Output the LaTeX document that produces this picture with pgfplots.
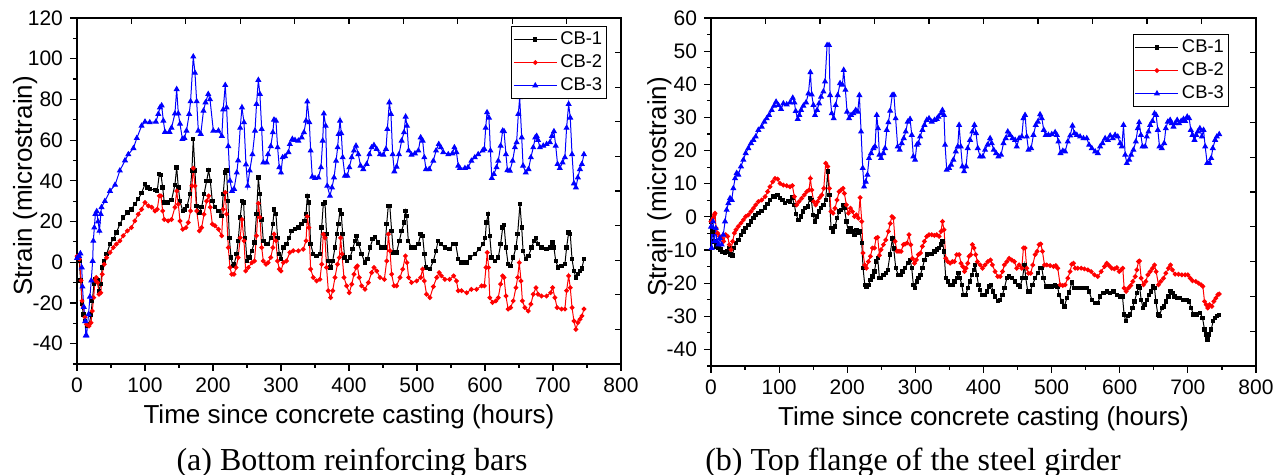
\documentclass[border=0pt]{standalone}
\usepackage{fontspec}
\setmainfont{Liberation Serif}
\newfontfamily\arial{Liberation Sans}
\usepackage{pgfplots}
\pgfplotsset{compat=1.18}

\pgfplotsset{
  strain/.style={
    scale only axis,
    xmin=0, xmax=800, xtick distance=100, minor x tick num=1,
    minor y tick num=1,
    tick pos=left, tick align=outside,
    major tick length=3.5pt, minor tick length=2pt,
    axis line style={line width=0.7pt},
    every tick/.append style={black, line width=0.6pt},
    tick label style={font=\arial\fontsize{10.5}{12}\selectfont},
    /pgf/number format/assume math mode=true,
    xlabel={Time since concrete casting (hours)},
    ylabel={Strain (microstrain)},
    every axis x label/.style={at={(axis description cs:0.5,0)}, anchor=base,
      yshift=-29.8pt, font=\arial\fontsize{13}{15}\selectfont},
    every axis y label/.style={at={(axis description cs:0,0.515)}, xshift=-22.5pt,
      rotate=90, anchor=base, font=\arial\fontsize{13}{15}\selectfont},
    legend cell align=left,
    legend image code/.code={\draw[mark repeat=2,mark phase=2]
      plot coordinates {(0pt,0pt) (10.75pt,0pt) (21.5pt,0pt)};},
    legend style={draw=black, line width=0.5pt, inner sep=0.8pt,
      font=\arial\fontsize{9.2}{11}\selectfont,
      nodes={text height=6.8pt, text depth=1.7pt, inner sep=1.5pt}},
  },
  mirror/.style={
    scale only axis, xmin=0, xmax=10, ymin=0, ymax=10,
    xtick={0,...,10}, ytick={0,...,10}, xticklabels={}, yticklabels={},
    tick pos=right, tick align=inside, major tick length=3pt,
    every tick/.append style={black, line width=0.6pt},
    axis line style={draw=none},
  },
  cb1/.style={black, line width=0.5pt, mark=square*, mark size=0.85pt},
  cb2/.style={red, line width=0.5pt, mark=*, mark size=0.95pt},
  cb3/.style={blue, line width=0.5pt, mark=triangle*, mark size=1.3pt},
}

\begin{document}
\begin{tikzpicture}
\useasboundingbox (-38.5pt,-55.5pt) rectangle (603.5pt,182pt);

% (a) bottom reinforcing bars
\begin{axis}[strain, at={(0pt,0pt)}, anchor=south west, width=272pt, height=173pt,
  ymin=-50, ymax=120, ytick distance=20,
  legend style={at={(1,1)}, anchor=north east, xshift=-6.85pt, yshift=-4pt}]
\addplot[cb1] coordinates {(0,2.3) (3.4,0.6) (5.4,-9) (7.4,-20.6) (9.3,-25.6) (11.8,-29) (15,-31) (18,-30.5) (20.6,-25.6) (22.5,-19) (25,-10.8) (27.5,-8.4) (30,-9) (32.4,-14) (35,-10.8) (37,-2.6) (40,0.6) (43.6,4) (48.5,8.9) (53.4,11.3) (58,14.6) (63,18.7) (68,22) (74,24.4) (80,26) (85,28.5) (90,31) (95,34) (100,38.4) (103.4,36.7) (107,36) (114.7,35.4) (118,35) (121,43.3) (123.5,43) (126,36.7) (128.4,29.3) (134,29.3) (139,30.5) (144,38) (146.6,46.6) (149,36.7) (151.5,30) (155.5,25.2) (159,26) (162,27.7) (166,33.4) (169,45) (171,60.5) (173.5,45) (176,27.7) (180,24.4) (183.3,27) (186.8,33.4) (190.7,40) (193.6,45.2) (196,40) (199,30) (203,27) (208,25.2) (212.7,22.8) (215,33.4) (217.6,44) (220,45) (222,30) (224,12) (226.5,2.3) (229,-1.8) (231,-1) (234.8,4) (237,10.5) (240,22) (242.6,30) (245,29.3) (247.5,12) (250,0.6) (253.4,2.3) (257,5.6) (261,9.7) (264,23.6) (266.7,41.6) (269,33.4) (271.6,21) (274,10.5) (278,8.9) (281,8.9) (285,12) (288,18.7) (290,26) (292.6,23.6) (295,12) (297.5,4) (300,1.5) (303.4,7.2) (308,8.9) (312,12) (315.7,15.4) (320.6,16.2) (325.5,17) (330.4,18.7) (334.3,20.3) (336.8,23.6) (338.7,32.6) (341,29.3) (343.6,8.9) (347.5,4) (352.4,3.1) (357.3,4) (359.8,17) (362.2,28.5) (364.7,29.3) (367,13.8) (369.6,0.6) (373,-2.6) (376,0.6) (379.4,7.2) (382,13.8) (384.3,18.7) (386.8,25.6) (388.7,23.6) (390.7,13.8) (393.6,2.3) (397.5,0.6) (401.5,2.3) (405.4,6.4) (408.8,10.5) (411.3,13) (414.2,8.9) (418.6,4) (423.5,-0.2) (427,1.5) (431,7.2) (434.8,11.3) (438.2,12.5) (443,9.7) (448,7.2) (453,7.2) (455.4,18.7) (457.8,27.7) (460,27.7) (462.7,15.4) (465.2,4.8) (470,4.8) (474,10.5) (477.4,15.4) (481,19.5) (483,25.2) (484.8,22.8) (487.2,10.5) (492,7.2) (497,7.2) (502,8.9) (505.4,13.8) (508.3,13) (510.8,4) (513.2,-2.6) (519,-3.4) (524,0.6) (528,5.6) (531,10.5) (535,8.9) (541,7.2) (548,6.4) (553,8.9) (557,8.9) (560.7,1.5) (565.6,-0.2) (573,-0.2) (578,2.3) (585,4) (591.5,6.4) (597.4,8.9) (600.4,12) (602,19.5) (604.8,23.6) (607,13) (609.7,2.3) (614.6,0.6) (619.5,2.3) (623,8.9) (626,17) (628,18.4) (630.8,7.2) (634,-1) (637.6,-1.8) (641.5,2.3) (645.5,7.2) (648,13.8) (651.4,28.5) (654,17) (656,5.6) (660,1.5) (664,3.1) (668.5,7.2) (672,10.5) (675,11.8) (678,8.9) (683,7.2) (690.6,6.4) (695.5,7.2) (699,9.7) (701.4,7.2) (704,0.6) (707.7,-2.6) (712.6,-1.8) (717.5,-1) (720,7.2) (723,14.6) (725.4,13.8) (728,1.5) (730.8,-4.3) (733.7,-7.5) (736.6,-5.9) (739.6,-4.3) (742.5,-3) (745.5,1.5)};
\addplot[cb2] coordinates {(0,3) (3.4,1.5) (6,-9) (7.4,-19) (9.3,-22) (11.8,-27) (14,-30.5) (17.6,-31.3) (20.6,-29.7) (22.5,-24) (24.5,-17.4) (26.5,-9) (28.4,-7.5) (30.4,-10) (32.4,-15.7) (35,-15) (37,-5.9) (40,-1) (43.6,2.3) (48.5,4.8) (53.4,7.2) (58,8.9) (63,10.5) (68,13) (74,15.4) (80,17) (85,20.3) (90,23.6) (95,26) (100,29.3) (105,27.7) (110,27) (114.7,25.2) (118,26) (121,32.6) (123.5,32.6) (126,25.2) (128.4,21) (134,20.3) (139,21) (144,27) (146.6,35) (149,28.5) (151.5,20.3) (155.5,16.2) (160.3,17) (163.7,19.5) (167,25.2) (169,37.5) (171,46.2) (173.5,37.5) (176,25.2) (180,15.4) (183.3,17) (186.8,23.6) (190.7,30) (193.6,32.6) (196,27) (199,18.7) (203,17.9) (208,16.2) (212.7,13) (215,26) (218,34.3) (220,23.6) (222.5,7.2) (225,-2.6) (227.5,-5.9) (231,-5.9) (234,-2.6) (237,2.3) (240,12) (242.6,21) (245.6,10.5) (248,-4.3) (252,-2.6) (257,-0.2) (261,0.6) (264,13) (266.7,28.9) (269,22) (271.6,7.2) (274,0.6) (278,-1) (281,-0.2) (285,2.3) (288,7.2) (290,13.8) (292.6,10.5) (295,0.6) (297.5,-3.4) (300,-4.3) (303.4,-0.2) (308,0.6) (313,4.8) (318,5.6) (325.5,5.6) (332.8,6.4) (336.8,10.5) (338.7,22.5) (341,17) (343.6,-3.4) (347.5,-7.5) (352.4,-9.2) (357.3,-8.4) (359.8,-1) (362.2,13.8) (364.7,12) (367,-2.6) (369.6,-14) (373,-17.4) (376,-14) (379.4,-7.5) (383,-1) (385.8,2.3) (387.7,12) (389.7,4) (392.6,-7.5) (396.6,-11.6) (400.5,-15) (404,-10.8) (407.3,-5.9) (410.3,-2.6) (412.2,-1.8) (415,-7.5) (418.6,-11.6) (423.5,-13.3) (428.4,-10) (433.3,-5.1) (436.7,-2.6) (440.7,-4.3) (445.6,-7.5) (452,-8.4) (455.4,0.6) (458,13.8) (460.3,5.6) (462.7,-5.9) (466.2,-11.6) (470,-11.6) (475,-7.5) (479,-3.4) (483,3.1) (485.3,-0.2) (487.7,-7.5) (492,-10) (499.5,-9.2) (505.4,-7.5) (508.3,-3.4) (510.8,-9.2) (514,-15.7) (519,-17.4) (524,-12) (529,-7.5) (532.7,-5.1) (536,-6.7) (541,-8.4) (548,-8.4) (554,-6.7) (558,-9.2) (560.7,-14) (565.6,-14) (573,-15) (580,-13.3) (587.6,-13.3) (595,-11.6) (599,-11.6) (601.4,-2.6) (603.3,4.8) (605.3,-2.6) (607,-17.4) (611,-19.8) (616,-19) (619.5,-17.4) (623,-10.8) (626,-6.7) (628,-7.5) (630.8,-16.6) (634,-23) (637.6,-22.3) (641.5,-19) (645.5,-12.5) (648,-7.5) (650.4,-0.2) (653,-9.2) (655,-19) (658.7,-22.3) (663.6,-24) (667.5,-20.6) (671,-15.7) (675,-12.5) (678,-15.7) (683,-16.6) (690.6,-16.6) (696.5,-15) (699.4,-12.5) (702.8,-17.4) (706,-22.3) (712.6,-23) (717.5,-23) (720,-14) (723,-6.7) (725.4,-12.5) (728,-22.3) (730.8,-28.9) (733.7,-33) (736.6,-29.7) (739.6,-28) (742.5,-26.4) (745.5,-23)};
\addplot[cb3] coordinates {(0,2) (3,3) (5,4.3) (7,-2.6) (8,-12) (10,-22) (12,-29) (13,-36) (14,-36) (17,-25.6) (19,-17) (21,-9) (23,0.6) (24,10.5) (25.5,17) (27,23.6) (29,25) (31,20) (33,15.4) (35,23.6) (36,27) (41,30) (48.5,35) (56,38) (63,45) (70.6,50) (75.5,53) (83,56) (88,61) (95,67) (100,69) (107,68.7) (116,69) (119.6,72.8) (122,76) (124.5,77) (127,69.5) (129.4,64) (136,64) (139,66) (144,73) (146.6,85) (149,73) (151.5,68) (155,60.5) (158,61) (161,64.6) (165,72.8) (167,79) (171,101) (173.5,93) (176,79) (178.4,64.6) (182,63) (186,74.4) (189,78.5) (193,82.6) (195.6,80) (200.5,64.6) (208,64.6) (213,62) (215,75) (218,87) (220,76) (222.5,57) (225,40) (228,35) (231,36) (235,44) (237,50) (240,66) (242.6,76) (245.6,68.7) (248.5,48) (251,37.5) (254,45) (258,53) (261.8,64.6) (264,77.7) (266.7,89.5) (269,82.6) (271.6,65.4) (274,49) (279,49) (281,53) (285,57) (288,63.8) (289.7,70) (292.6,69.5) (295,56.4) (297.5,46.6) (300,44) (302.4,51.5) (306,52) (311,54) (313,58) (316.7,60.5) (320.6,60) (325.5,59.7) (330.4,61.3) (333.8,63.8) (336.8,69.5) (338.7,78.9) (341.7,68.7) (343.6,54.8) (346,42) (350,41.3) (355,41.6) (358.8,46.6) (361.3,59.7) (363,73) (365.7,67) (368,37.5) (372,32.6) (375,36.7) (378,41.6) (381,49.8) (383.3,56.4) (384.8,63) (386.8,69.5) (388.7,63.3) (390.7,51.5) (394,42.5) (397.5,42.5) (400.5,46.6) (404,51.5) (407.3,54.8) (410.3,57.2) (413.7,53) (417,47.4) (421,45.7) (426,48.2) (430,53) (433.3,56.4) (436.7,57.5) (440.7,55.6) (445.6,53) (450.5,52.8) (454.4,55.6) (456.4,65.4) (459.3,78.5) (461.7,72.8) (464.2,53) (466.7,44.6) (470,46.9) (473.5,53) (477.4,59.7) (480.9,63.8) (483.3,71.5) (485.3,67) (487.7,54.8) (492,52.8) (497,53.4) (502,54.8) (505.4,61.3) (508.3,59.7) (510.8,51.5) (513.2,45.7) (518,45.7) (524,49.8) (528,54.8) (532,58) (535,56.4) (538.6,54) (546,53) (552,53.4) (555,56.4) (558,54) (560.7,47.4) (563,46.2) (570.5,46.2) (575,46.6) (580,49.8) (585,51.5) (590,53) (596.5,54.8) (599,55.6) (601,66) (603,73.6) (605.8,71) (608,54.8) (610,41.3) (613,43.3) (617,46.6) (619.5,49.8) (623,57.2) (626,64.6) (628,64.3) (630.8,53) (633,45.2) (636.6,44.9) (640.6,49.8) (644,56.4) (646.5,58.9) (649,72.8) (651,81) (654,61.3) (656,47.4) (660,44) (664,45.7) (667.5,51.5) (671,56.4) (674,61.3) (676,62) (678,60) (680.8,56.4) (685.7,57.2) (690.6,58) (695.5,58.9) (698.4,62) (701.4,64.3) (704,57.2) (706.7,48.2) (710,46.2) (714,49) (717.5,51.5) (720,66) (723,77.7) (725.4,71) (728,53) (730.8,38.7) (733.7,36.7) (736.6,41.6) (739.6,45.7) (742.5,48.2) (745.5,53)};
\legend{CB-1, CB-2, CB-3}
\end{axis}
\begin{axis}[mirror, at={(0pt,0pt)}, anchor=south west, width=272pt, height=173pt]
\end{axis}

% (b) top flange of the steel girder
\begin{axis}[strain, at={(317pt,-1pt)}, anchor=south west, width=272.5pt, height=174pt,
  ymin=-45, ymax=60, ytick distance=10,
  legend style={at={(1,1)}, anchor=north east, xshift=-13.5pt, yshift=-8pt}]
\addplot[cb1] coordinates {(0,-1.4) (3,-4.4) (4.9,-7.4) (7.4,-8.9) (10.8,-9.4) (14.2,-9.9) (17.1,-10.6) (20.6,-10.9) (23.5,-10.4) (26.4,-9.4) (28.9,-11.4) (31.3,-11.6) (33.8,-9.4) (36.7,-7.9) (40.1,-6.9) (44,-5.4) (47.5,-4.4) (50.9,-3.4) (54.8,-2.4) (58.7,-1.4) (62.2,-0.4) (65.6,0.6) (69.5,1.1) (74.4,1.8) (79.3,2.8) (83.2,3.8) (86.6,5.1) (90.6,6.1) (94,6.1) (97.4,6.6) (101.3,5.6) (104.8,5.1) (108.7,4.1) (112.6,4.8) (116,4.6) (119.4,5.8) (122.4,3.6) (124.8,0.8) (128.3,-0.9) (131.7,0.1) (134.6,1.6) (138,2.6) (142,3.1) (144.9,5.6) (147.3,5.1) (149.8,0.6) (152.7,-1.4) (155.7,0.1) (158.6,1.6) (161.5,2.6) (165,3.6) (168.4,5.1) (171.3,13.7) (173.8,6.6) (176.2,-3.4) (179.2,-4.4) (182.1,-2.9) (185,-0.4) (188,1.6) (190.9,2.1) (193.8,3.6) (195.8,2.6) (198.7,-1.4) (201.7,-4.4) (204.6,-3.4) (207.6,-4.4) (210.5,-5.4) (213.4,-3.9) (216.4,-4.9) (218.8,-4.4) (221.3,-7.9) (223.2,-15.5) (225.7,-20.5) (228.1,-21) (231,-20.5) (234,-19) (236.9,-18) (239.9,-16.5) (242.3,-13.5) (244.7,-12.5) (247.2,-18.5) (249.6,-18.5) (253.1,-17.5) (256.5,-17) (259.4,-16) (262.8,-11.4) (266.3,-6.5) (268.2,-9.5) (271.2,-15.5) (275,-17.5) (279,-17.5) (281,-16.5) (284.9,-15.5) (288.8,-14) (292.2,-13) (294.7,-15.5) (297,-20.5) (299.6,-21.5) (302,-19.5) (304.4,-18.5) (307.4,-17.5) (310.3,-15.5) (313.3,-13) (316.7,-11.4) (320.1,-11.2) (324,-11.2) (327.9,-10.4) (331.4,-9.9) (334.8,-9.4) (337.7,-8.4) (339.7,-7.4) (342,-10.4) (344.6,-18.5) (347.5,-19.5) (351,-20.5) (354.4,-20.5) (357.3,-19.5) (360.7,-18.5) (363.2,-17) (365.6,-18.5) (368.1,-20.5) (370.5,-23.5) (374,-23.5) (376.9,-21.5) (379.8,-19.5) (382.8,-17.5) (385.7,-16) (387.7,-14.5) (390.1,-17.5) (392.6,-20.5) (395,-22) (397.5,-23.5) (401.4,-23.5) (404.8,-22.5) (408.2,-21) (411.2,-20.5) (414.1,-22.5) (417,-24) (421,-25.3) (424.4,-25) (427.8,-23.5) (430.7,-21.5) (434.2,-18.5) (437.6,-18) (441.5,-18.5) (446.4,-19.5) (450.3,-20.5) (453.7,-21) (457.2,-18.5) (460.1,-14.5) (462.1,-18.5) (465,-22.5) (468.4,-22.5) (471.9,-20.5) (475.8,-18.5) (479.7,-17) (483.1,-15.5) (485.6,-15.5) (488,-18.5) (491.4,-21) (495.3,-21) (500.2,-21) (505.1,-20.7) (508.6,-21) (511,-23.5) (514.9,-25.5) (518.8,-27) (522.3,-24.5) (525.7,-22.8) (529.6,-19.8) (533.5,-21.5) (537,-21.5) (541.8,-21.5) (546.7,-21.5) (551.6,-21.5) (555,-22.5) (559,-25) (563.9,-26) (567.8,-26) (571.2,-24) (576,-23) (581,-22.5) (585.9,-23) (590.8,-22.5) (595.7,-23.5) (600.6,-24) (604,-24) (606.4,-29.5) (608.9,-31.5) (611.8,-30) (615.2,-29.5) (618.7,-27.5) (621.6,-25.5) (625,-23) (627.5,-21) (629.4,-21.5) (631.4,-25) (634.3,-27.5) (637.3,-26.5) (640.2,-25) (643.1,-23.5) (646.1,-22.5) (649,-21) (651,-21.5) (653,-25.5) (655.9,-29.5) (658.3,-30) (661.7,-27.5) (665.2,-27) (668.1,-25.5) (671.5,-24) (674.5,-22.3) (677.4,-23) (680.3,-24) (683.8,-24.5) (688.7,-24.5) (693.6,-25) (698.5,-25) (701.9,-25.5) (704.8,-27.5) (708.3,-29.5) (713.1,-29.5) (718,-29) (721.5,-30.5) (724.4,-34) (726.9,-35.5) (728.8,-37) (731.3,-35.5) (734.2,-34) (737.1,-31.5) (740,-30.5) (743,-30) (746,-29.7)};
\addplot[cb2] coordinates {(0,-1.4) (3,-0.4) (4.9,0.6) (5.9,1.1) (7.4,-3.4) (9.8,-4.9) (12.7,-5.9) (15.7,-6.4) (18.6,-7.4) (21.5,-5.4) (24.5,-5.9) (26.9,-8.4) (29.4,-9.9) (31.8,-7.4) (34.3,-4.9) (36.7,-3.9) (40.1,-2.9) (44,-1.9) (47.5,-0.9) (50.9,0.1) (54.8,0.6) (58.7,1.6) (62.2,2.6) (65.6,3.6) (69.5,4.6) (74.4,5.1) (79.3,6.1) (83.2,7.6) (86.6,9.1) (90.6,10.6) (94,11.6) (97.9,11.4) (101.3,10.1) (106.2,9.6) (111.1,9.4) (116,9.1) (119.4,9.4) (122.4,6.1) (125.8,3.6) (129.2,4.6) (133.1,5.6) (137,6.6) (140.5,7.6) (143.9,8.1) (145.9,11.6) (147.8,8.1) (150.8,4.6) (153.7,3.6) (156.6,4.6) (159.6,5.8) (162.5,6.6) (165.5,8.6) (168.4,16.2) (171.3,15.2) (173.8,8.6) (176.2,1.6) (179.2,1.1) (182.1,2.6) (185,5.1) (188,7.6) (190.9,8.1) (193.8,8.6) (195.8,7.1) (198.7,3.6) (201.7,1.1) (204.6,2.6) (207.6,1.6) (210.5,0.1) (213.4,0.6) (216.4,-0.4) (218.8,5.8) (221.3,-1.4) (223.2,-10.9) (225.7,-14.5) (228.1,-15.5) (231,-13.5) (234,-11.9) (236.9,-9.4) (239.9,-9.4) (242.3,-6.4) (244.7,-6.2) (247.2,-11.6) (249.6,-9.9) (253.1,-8.4) (256.5,-7) (260.4,-4.4) (263,-2) (265.5,0.1) (267.7,-0.3) (270.2,-7.4) (273.1,-10.4) (276,-10.4) (279,-10.4) (282.4,-8.4) (284.9,-8.2) (287.8,-7.9) (290.7,-5.4) (293.2,-8.4) (295.6,-12.5) (298.6,-14) (301.5,-13) (304.4,-11.4) (307.4,-10.9) (310.3,-8.9) (313.3,-7.4) (316.7,-5.9) (320.1,-5.4) (324,-5.4) (327.9,-5.6) (331.4,-5.4) (334.8,-5.9) (337.7,-4.4) (339.7,-1.4) (342.1,-3.9) (344.6,-12.5) (347.5,-13.5) (351,-14) (354.4,-13.5) (357.3,-13.5) (360.7,-11.4) (364.2,-11.4) (367.1,-14) (369.5,-15) (372,-16.5) (374.4,-15.5) (376.9,-14) (378.8,-11.9) (381.3,-11.4) (383.7,-8.4) (386.2,-9.4) (388.6,-11.4) (391.1,-13.5) (395,-14.5) (398.4,-15.5) (402.3,-14.5) (406.3,-13.5) (410.2,-13) (413.1,-14.5) (417,-16.5) (421,-18) (424.4,-18) (427.8,-16.5) (430.7,-14.5) (434.2,-13.5) (437.6,-12.5) (441.5,-13) (445.4,-13.5) (448.8,-15.5) (452.3,-14.5) (456.2,-15.5) (458.6,-9.4) (461,-9.4) (463.5,-15.5) (466,-17) (469.4,-17) (472.3,-14.5) (475.8,-11.4) (478.7,-10.4) (481.6,-8.4) (484.1,-8.2) (486.5,-10.4) (489.5,-14.5) (492.9,-14.5) (497.8,-14.7) (502.7,-15) (506.1,-14.7) (509,-15.5) (512.5,-20.5) (516.4,-20.7) (519.8,-20.5) (523.7,-18.5) (527.1,-16.5) (529.6,-14.3) (532,-14) (534.5,-15.5) (538.4,-15.5) (543.3,-15.5) (548.2,-15.7) (553.1,-16) (558,-16.5) (562.9,-17.5) (567.8,-18) (572.7,-16.5) (577.6,-15) (581,-14) (584.4,-14.7) (588.3,-15.5) (592.2,-15.7) (595.7,-15.3) (599.1,-16.5) (602,-16) (604.5,-15.5) (606.4,-21.5) (609.4,-22.5) (612.8,-21.5) (616.2,-20.7) (619.2,-19.5) (622.6,-18) (625,-16) (627.5,-13.5) (629,-13.3) (631.4,-18.5) (634.8,-20.5) (638.3,-19.5) (641.2,-17.5) (644.6,-16.5) (648,-15.5) (651,-14.5) (653.4,-16.5) (656.9,-20.5) (660.3,-19.5) (664.2,-18.5) (667.6,-17) (671.5,-15.5) (674.5,-14.5) (677.4,-16) (681.3,-17.3) (686.2,-17.3) (691.1,-17.5) (696,-17.5) (699.9,-17.5) (703.4,-18.5) (706.8,-19.3) (711.7,-19.5) (715.6,-20) (719.5,-20.5) (722,-21) (724.4,-25.5) (726.9,-26.5) (729.3,-27.5) (731.7,-26.5) (735.2,-27) (738.1,-25.5) (741.1,-24.5) (744,-23.5) (746,-23.3)};
\addplot[cb3] coordinates {(0,-3) (1,-9.4) (3,-1.4) (5,-7.4) (6.9,-3.4) (8.8,-7.4) (10.8,-8.4) (13,-6.4) (15.7,-8.4) (18,-5.4) (20.6,-1.4) (23,2.1) (25.5,4.1) (27.9,5.6) (30.4,5.1) (32.8,8.6) (35.3,11.6) (37.7,13.2) (40.1,12.7) (44,15.2) (47.5,17.2) (50.9,19.2) (54.8,20.7) (58.7,22.2) (62.2,23.2) (65.6,24.2) (69.5,26.2) (74.4,27.2) (78.3,28.7) (81.8,29.7) (85.2,30.7) (89.1,32.2) (92.5,33.5) (95.5,34.7) (98.9,33.7) (102.8,32.5) (106.2,34.2) (111.1,33.9) (116,34.5) (120,35.9) (122.4,34.5) (124.3,31.9) (127.3,29.5) (129.7,30.7) (132.2,32.2) (135.6,33.5) (139.5,34.5) (143,37.2) (145.9,43.6) (147.8,36.9) (150.3,33.7) (152.7,30.7) (155.7,32.2) (158.6,34.2) (161.5,36.2) (165,37.8) (167.4,40.8) (170.4,51.8) (173.3,51.8) (174.8,36.7) (177.2,31.2) (180.1,29.7) (183,33.7) (186,36.7) (189.4,40.3) (192.9,39.8) (194.8,44.3) (197.3,38.3) (199.7,31.7) (202.7,29.7) (205.6,30.7) (209,31.2) (212.4,32.2) (215.4,31.7) (217.8,36.7) (220.3,25.7) (222.7,14.7) (224.7,9.1) (227.1,10.6) (229.6,12.7) (232,17.7) (235,19.2) (238.4,20.7) (240.8,21.2) (243.3,30.7) (245.2,26.7) (247.2,18.7) (249.6,17.7) (253,19.2) (255.5,20.7) (258,26.2) (260.4,28.5) (263,32) (266,36.7) (268.5,36.8) (271,29.7) (274,21.2) (277,20.2) (280,22.2) (283,23.7) (285.8,25.7) (288.8,28.7) (292.2,29.5) (294.7,24.7) (297,18.2) (299.6,17.2) (302,21.7) (304.4,22.2) (306.9,24.2) (310.3,26.2) (313.3,27.7) (316.7,29.2) (320,29.7) (324,28.7) (328,29.2) (331.4,29.5) (333.8,30.2) (337.7,31.2) (339.7,32.2) (342,30.7) (343.6,21.7) (346,14.2) (349.5,14.7) (352.4,15.7) (355.8,17.2) (359.3,19.7) (362.2,21.2) (364.2,27.7) (366.6,21.2) (369,15.2) (371.5,13.7) (374.4,15.2) (376.9,20.7) (380.3,23.2) (383.7,25.7) (386.7,27.7) (389.1,25.2) (391.6,20.7) (395,18.2) (399,18.2) (402.3,20.2) (405.8,21.7) (409.7,23.7) (412,22.2) (415,20.2) (418.5,19.2) (421.9,18.2) (425.8,18.7) (429.3,22.2) (432.7,23.7) (435.6,25.7) (439,24.7) (442.5,23.7) (446.4,23.2) (448.8,21.2) (452.3,23.7) (456.2,24.2) (458.6,29.7) (461,30.7) (463.5,24.2) (466,20.2) (469.9,20.7) (473.3,24.7) (476.7,27.7) (479.7,28.7) (483,30.9) (485.6,29.7) (488.5,26.2) (491.4,24.7) (495.3,24.7) (500.2,24.9) (505.1,25.5) (507.6,24.7) (510,22.7) (513,19.2) (516.4,19.9) (519.8,19.7) (523.7,22.7) (527.2,24.5) (530.6,27.5) (533.5,25.2) (537,24.7) (541.8,24.2) (546.7,23.7) (551.6,23.7) (555,21.7) (559,20.7) (563.9,19.7) (567.8,19.2) (571.2,21.2) (574.6,22.2) (578.5,23.7) (582.5,23.2) (585.9,24.5) (589.8,23.7) (593.2,24.7) (597.1,24.2) (600.6,22.2) (603,21.2) (605.5,27.7) (608,18.7) (610.4,16.2) (613.8,17.2) (616.7,18.7) (620.1,20.2) (623.6,22.7) (626.5,26.7) (628.5,28.5) (631,24.7) (633.4,21.2) (637.3,21.2) (639.7,24.2) (642.2,25.7) (644.6,27.7) (648,28.9) (651,31.2) (653.4,30.7) (655.9,26.2) (658.3,21.2) (661.7,20.7) (665.2,22.2) (667.6,26.7) (670.6,28.7) (674,29.2) (676.4,28.2) (678.9,27.2) (681.3,28.2) (684.3,29.2) (687.2,28.2) (690.1,28.9) (693.6,29.5) (696,28.9) (699,30.2) (701.9,29.7) (704.3,26.2) (706.8,24.7) (709.7,23.2) (712.2,24.7) (714.6,25.7) (717.6,26.7) (720.5,24.2) (723,26.2) (725.4,21.2) (728.3,16.2) (731.3,16.2) (734.2,17.7) (736.6,20.7) (740,23.2) (742.5,24.2) (746,24.9)};
\legend{CB-1, CB-2, CB-3}
\end{axis}
\begin{axis}[mirror, at={(317pt,-1pt)}, anchor=south west, width=272.5pt, height=174pt]
\end{axis}

\node[anchor=base, font=\fontsize{16}{19}\selectfont] at (137.5pt,-53.35pt) {(a) Bottom reinforcing bars};
\node[anchor=base, font=\fontsize{16}{19}\selectfont] at (418pt,-53.35pt) {(b) Top flange of the steel girder};
\end{tikzpicture}
\end{document}
